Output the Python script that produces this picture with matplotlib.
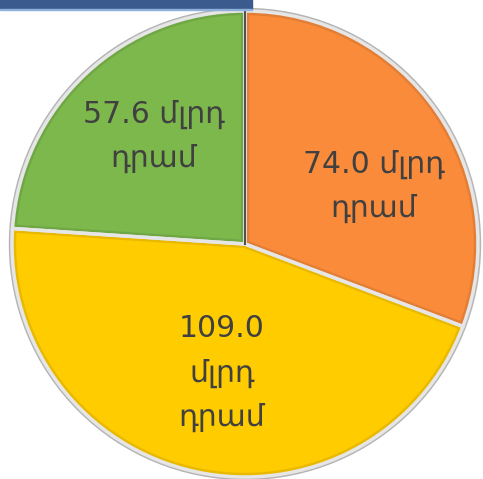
import matplotlib

matplotlib.use("Agg")
import matplotlib.pyplot as plt
from matplotlib.patches import Rectangle, Wedge
from matplotlib.colors import to_rgb

# Slice values (billion AMD), clockwise from the top
values = [74.0, 109.0, 57.6]
labels = ["74.0 մլրդ\nդրամ", "109.0\nմլրդ\nդրամ", "57.6 մլրդ\nդրամ"]
colors = ["#F98B3B", "#FFCC00", "#7CB84C"]

W, H = 483, 479
fig = plt.figure(figsize=(W / 100, H / 100), dpi=100)
ax = fig.add_axes([0, 0, 1, 1])

cx, cy, r = 245, H - 244, 233

# soft grey rim behind the pie
ax.add_patch(plt.Circle((cx, cy), r + 2.5, color="#B5B5B5", zorder=0))

wedges, _ = ax.pie(
    values,
    colors=colors,
    startangle=90,
    counterclock=False,
    center=(cx, cy),
    radius=r,
    frame=True,
    wedgeprops=dict(edgecolor="none", linewidth=0),
)

# bevel: darker inner rim on each slice, clipped to the slice
for w, c in zip(wedges, colors):
    dark = tuple(v * 0.8 for v in to_rgb(c))
    rim = Wedge((cx, cy), r, w.theta1, w.theta2, facecolor="none",
                edgecolor=dark, linewidth=6, alpha=0.45, zorder=2)
    ax.add_patch(rim)
    rim.set_clip_path(w)
    edge = Wedge((cx, cy), r, w.theta1, w.theta2, facecolor="none",
                 edgecolor="#E6E6E6", linewidth=2.5, zorder=3)
    ax.add_patch(edge)

# dark seam between the green and orange slices at the top
ax.plot([cx, cx], [cy, cy + r], color="#505050", lw=1.5, zorder=4)

ax.set_xlim(0, W)
ax.set_ylim(0, H)
ax.set_aspect("equal")
ax.axis("off")

# label anchors (image pixel coords, y measured from top)
label_pos = [(374, 186), (222, 373), (154, 136)]
for txt, (x, y) in zip(labels, label_pos):
    ax.text(x, H - y, txt, ha="center", va="center", fontsize=21.5,
            color="#404040", linespacing=1.65, family=["DejaVu Sans"], zorder=6)

# clipped title bar at the top
ax.add_patch(Rectangle((0, H - 9), 252, 9, color="#3B5B8E", zorder=5))
ax.add_patch(Rectangle((0, H - 10), 252, 1.5, color="#8FB0DA", zorder=5))

fig.savefig("out.png", dpi=100)
plt.close(fig)
